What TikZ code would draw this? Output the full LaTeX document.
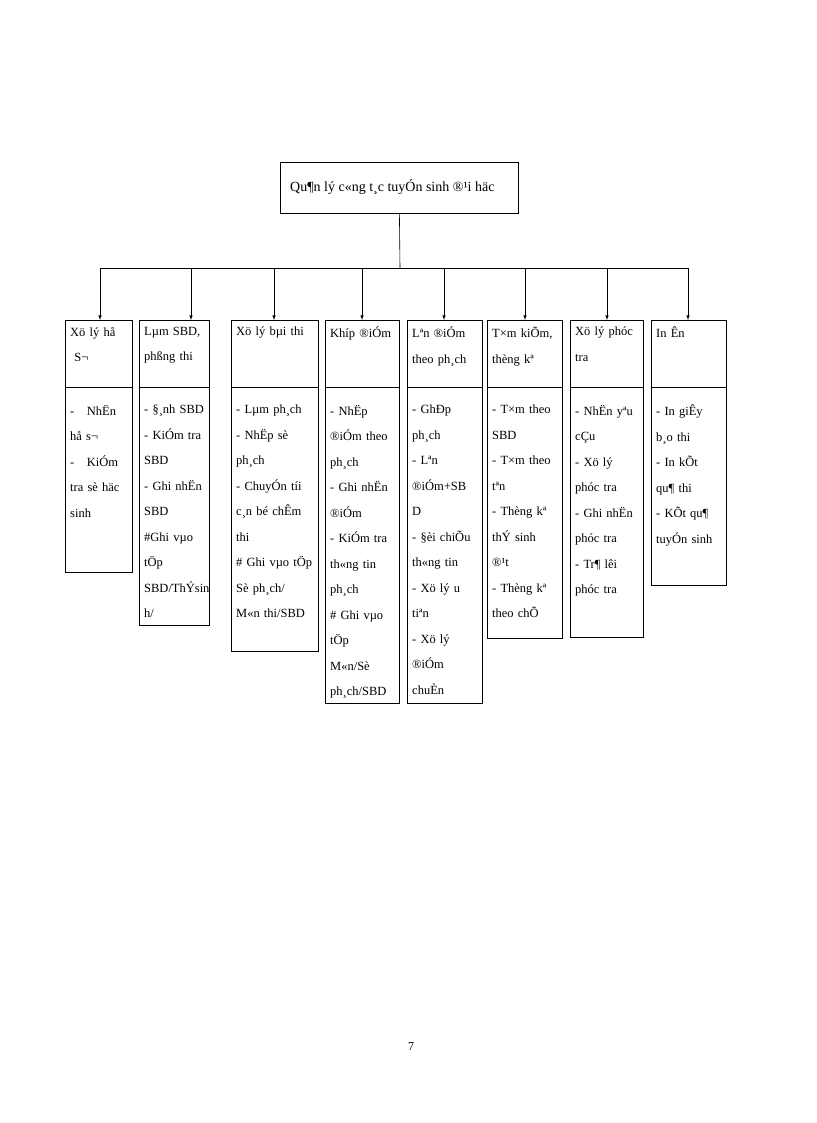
\documentclass[tikz,border=0pt]{standalone}
\usepackage{fontspec}
\setmainfont{Liberation Serif}
\begin{document}
\begin{tikzpicture}[x=1pt,y=-1pt,
  bx/.style={draw,line width=0.8pt},
  txt/.style={anchor=north west,inner sep=0pt,align=left,font=\fontsize{12.5}{25.5}\selectfont},
  arr/.style={-latex,line width=0.6pt}]
\useasboundingbox (0,0) rectangle (816,1123);
\node[bx,minimum width=238,minimum height=51,anchor=north west,inner sep=0pt] (top) at (280,162) {};
\node[anchor=west,inner sep=0pt,font=\fontsize{14}{16}\selectfont] (toptxt) at (290,187) {Qu¶n lý c«ng t¸c tuyÓn sinh ®¹i häc};
\coordinate (j) at (400,268);
\draw[line width=0.6pt] (top.south) -- (j);
\coordinate (hl) at (100,268);
\coordinate (hr) at (688,268);
\draw[line width=0.6pt] (hl) -- (hr);
% boxes: name, x1, x2, bottom, arrow x, header, body
\foreach \n/\xa/\xb/\yb/\ax/\hd/\bd in {
 b1/65/132/572/100/{Xö lý hå\\ \ S¬}/{-\ \ \ NhËn\\hå s¬\\-\ \ \ KiÓm\\tra sè häc\\sinh},
 b2/139/209/625/191/{Lµm SBD,\\phßng thi}/{- §¸nh SBD\\- KiÓm tra\\SBD\\- Ghi nhËn\\SBD\\\#Ghi vµo\\tÖp\\SBD/ThÝsin\\h/ A/B/C/D/thi},
 b3/231/318/651/274/{Xö lý bµi thi}/{- Lµm ph¸ch\\- NhËp sè\\ph¸ch\\- ChuyÓn tíi\\c¸n bé chÊm\\thi\\\# Ghi vµo tÖp\\Sè ph¸ch/\\M«n thi/SBD},
 b4/325/399/703/362/{Khíp ®iÓm}/{- NhËp\\®iÓm theo\\ph¸ch\\- Ghi nhËn\\®iÓm\\- KiÓm tra\\th«ng tin\\ph¸ch\\\# Ghi vµo\\tÖp\\M«n/Sè\\ph¸ch/SBD},
 b5/407/482/703/444/{Lªn ®iÓm\\theo ph¸ch}/{- GhÐp\\ph¸ch\\- Lªn\\®iÓm+SB\\D\\- §èi chiÕu\\th«ng tin\\- Xö lý u\\tiªn\\- Xö lý\\®iÓm\\chuÈn},
 b6/487/562/638/525/{T×m kiÕm,\\thèng kª}/{- T×m theo\\SBD\\- T×m theo\\tªn\\- Thèng kª\\thÝ sinh\\®¹t\\- Thèng kª\\theo chÕ},
 b7/570/643/637/607/{Xö lý phóc\\tra}/{- NhËn yªu\\cÇu\\- Xö lý\\phóc tra\\- Ghi nhËn\\phóc tra\\- Tr¶ lêi\\phóc tra},
 b8/651/726/585/688/{In Ên}/{- In giÊy\\b¸o thi\\- In kÕt\\qu¶ thi\\- KÕt qu¶\\tuyÓn sinh}}{
  \draw[bx] (\xa,320) rectangle (\xb,\yb);
  \draw[line width=0.8pt] (\xa,387) -- (\xb,387);
  \coordinate (\n top) at (\ax,320);
  \draw[arr] (\ax,268) -- (\n top);
  \node[txt,text width=\xb-\xa-8] (\n h) at (\xa+5,327) {\hd};
  \begin{scope}
   \clip (\xa,388) rectangle (\xb,\yb-6);
   \node[txt,text width=\xb-\xa-8] (\n b) at (\xa+5,405) {\bd};
  \end{scope}
 }
\node[font=\fontsize{12}{14}\selectfont] (pg) at (411,1047) {7};
\end{tikzpicture}
\end{document}
